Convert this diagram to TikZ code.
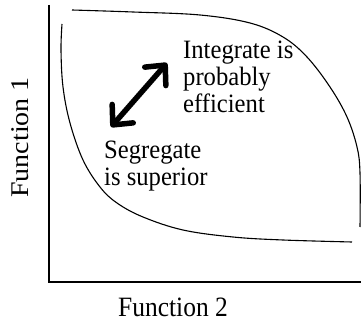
\documentclass[tikz,border=0pt]{standalone}
\usepackage{fontspec}
\setmainfont{Liberation Serif}
\usetikzlibrary{arrows.meta}

\begin{document}
\begin{tikzpicture}[x=1pt, y=1pt,
  axis/.style={line width=1.4pt},
  frontier/.style={line width=1.1pt},
  inlbl/.style={font=\fontsize{26.5}{27}\selectfont, xscale=0.93, align=left, inner sep=0pt, anchor=north west},
  axlbl/.style={font=\fontsize{28}{30}\selectfont, xscale=0.91, inner sep=0pt, anchor=base}]
\useasboundingbox (0,0) rectangle (361,321);
% ---- axes ----
\coordinate (top) at (49,316);
\coordinate (orig) at (49,39);
\coordinate (xend) at (361,39);
\draw[axis] (top) -- (orig) -- (xend);
\node[axlbl] (fx) at (173,5) {Function 2};
\node[axlbl, rotate=90] (fy) at (28,183.5) {Function 1};
% ---- convex curve (segregate) ----
\draw[frontier] plot[smooth, tension=0.6] coordinates {(62,297) (61,271) (63,234) (70,198) (83,161)
  (100,134) (117,118) (143,104) (183,91) (233,84) (283,81) (352,79)};
% ---- concave curve (integrate) ----
\draw[frontier] plot[smooth, tension=0.6] coordinates {(72,311) (133,309) (200,306) (250,298) (283,284)
  (307,264) (330,234) (347,204) (357,174) (360,148) (360,94)};
% ---- double arrow ----
\coordinate (arrlo) at (111,194);
\coordinate (arrhi) at (167,258);
\draw[line width=5.5pt, line cap=round,
  {Straight Barb[round, length=15pt, width=28pt]}-{Straight Barb[round, length=15pt, width=28pt]}]
  (arrlo) -- (arrhi);
% ---- labels ----
\node[inlbl] (integ) at (183,280) {Integrate is\\probably\\efficient};
\node[inlbl] (segr) at (104,180) {Segregate\\is superior};
\end{tikzpicture}
\end{document}
